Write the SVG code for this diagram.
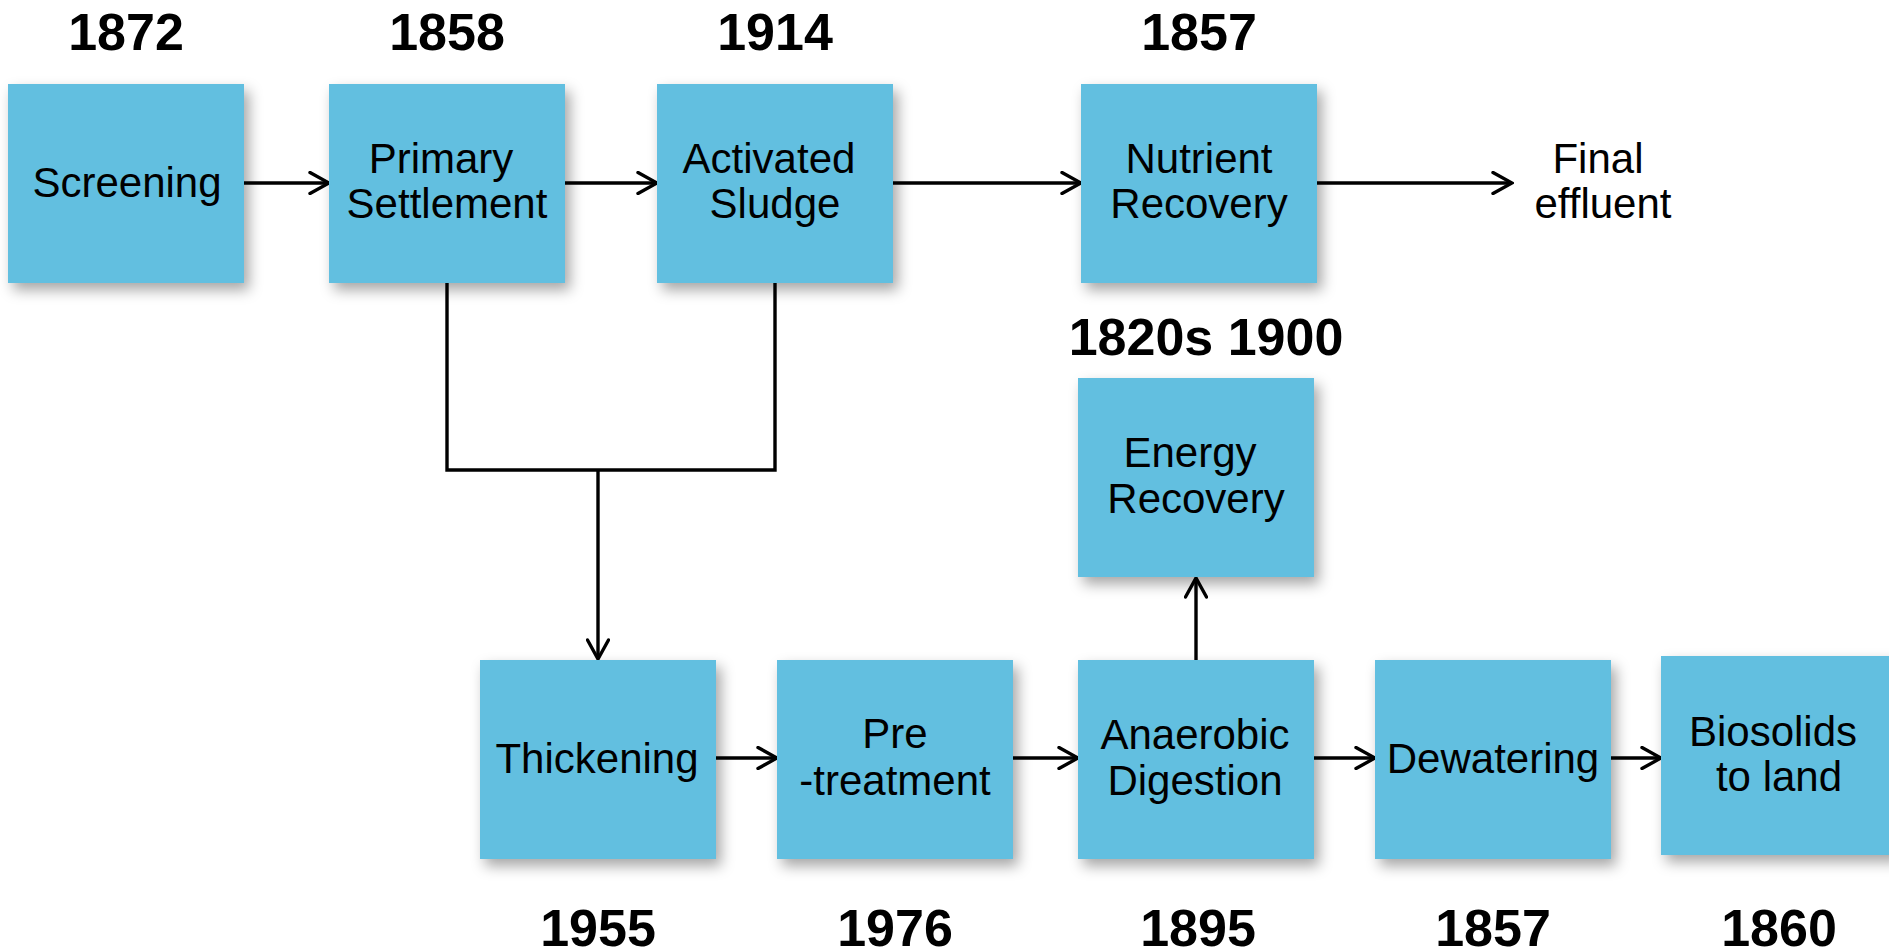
<svg xmlns="http://www.w3.org/2000/svg" width="1889" height="952" viewBox="0 0 1889 952">
<style>
.box{fill:#62BFE0;filter:url(#sh)}
.lbl{font-family:"Liberation Sans",Arial,sans-serif;font-size:42px;fill:#000;text-anchor:middle}
.yr{font-family:"Liberation Sans",Arial,sans-serif;font-size:52px;font-weight:bold;fill:#000;text-anchor:middle}
.con{fill:none;stroke:#000;stroke-width:3.4}
</style>
<defs>
<filter id="sh" x="-20%" y="-20%" width="150%" height="150%">
<feDropShadow dx="5" dy="7" stdDeviation="7" flood-color="#000" flood-opacity="0.35"/>
</filter>
<marker id="ah" viewBox="0 0 24 24" refX="22" refY="12" markerWidth="24" markerHeight="24" markerUnits="userSpaceOnUse" orient="auto">
<path d="M3,1.5 L22,12 L3,22.5" fill="none" stroke="#000" stroke-width="3.4" stroke-linecap="round" stroke-linejoin="miter"/>
</marker>
</defs>
<rect width="1889" height="952" fill="#fff"/>

<g id="connectors">
<line class="con" x1="244" y1="183" x2="329" y2="183" marker-end="url(#ah)"/>
<line class="con" x1="565" y1="183" x2="657" y2="183" marker-end="url(#ah)"/>
<line class="con" x1="893" y1="183" x2="1081" y2="183" marker-end="url(#ah)"/>
<line class="con" x1="1317" y1="183" x2="1512" y2="183" marker-end="url(#ah)"/>
<path class="con" d="M447,283 V470 H775 V283"/>
<line class="con" x1="598" y1="470" x2="598" y2="659" marker-end="url(#ah)"/>
<line class="con" x1="716" y1="758" x2="777" y2="758" marker-end="url(#ah)"/>
<line class="con" x1="1013" y1="758" x2="1078" y2="758" marker-end="url(#ah)"/>
<line class="con" x1="1314" y1="758" x2="1375" y2="758" marker-end="url(#ah)"/>
<line class="con" x1="1605" y1="758" x2="1661" y2="758" marker-end="url(#ah)"/>
<line class="con" x1="1196" y1="660" x2="1196" y2="578" marker-end="url(#ah)"/>
</g>

<g id="screening">
<rect class="box" x="8" y="84" width="236" height="199"/>
<text class="lbl" x="127" y="197">Screening</text>
<text class="yr" x="126" y="50">1872</text>
</g>
<g id="primary-settlement">
<rect class="box" x="329" y="84" width="236" height="199"/>
<text class="lbl" x="441" y="173">Primary</text>
<text class="lbl" x="447" y="218">Settlement</text>
<text class="yr" x="447" y="50">1858</text>
</g>
<g id="activated-sludge">
<rect class="box" x="657" y="84" width="236" height="199"/>
<text class="lbl" x="769" y="173">Activated</text>
<text class="lbl" x="775" y="218">Sludge</text>
<text class="yr" x="775" y="50">1914</text>
</g>
<g id="nutrient-recovery">
<rect class="box" x="1081" y="84" width="236" height="199"/>
<text class="lbl" x="1199" y="173">Nutrient</text>
<text class="lbl" x="1199" y="218">Recovery</text>
<text class="yr" x="1199" y="50">1857</text>
</g>
<g id="final-effluent">
<text class="lbl" x="1598" y="173">Final</text>
<text class="lbl" x="1603" y="218">effluent</text>
</g>
<g id="energy-recovery">
<rect class="box" x="1078" y="378" width="236" height="199"/>
<text class="lbl" x="1190" y="467">Energy</text>
<text class="lbl" x="1196" y="513">Recovery</text>
<text class="yr" x="1206" y="355">1820s 1900</text>
</g>
<g id="thickening">
<rect class="box" x="480" y="660" width="236" height="199"/>
<text class="lbl" x="597" y="773">Thickening</text>
<text class="yr" x="598" y="946">1955</text>
</g>
<g id="pre-treatment">
<rect class="box" x="777" y="660" width="236" height="199"/>
<text class="lbl" x="895" y="748">Pre</text>
<text class="lbl" x="895" y="795">-treatment</text>
<text class="yr" x="895" y="946">1976</text>
</g>
<g id="anaerobic-digestion">
<rect class="box" x="1078" y="660" width="236" height="199"/>
<text class="lbl" x="1195" y="749">Anaerobic</text>
<text class="lbl" x="1195" y="795">Digestion</text>
<text class="yr" x="1198" y="946">1895</text>
</g>
<g id="dewatering">
<rect class="box" x="1375" y="660" width="236" height="199"/>
<text class="lbl" x="1493" y="773">Dewatering</text>
<text class="yr" x="1493" y="946">1857</text>
</g>
<g id="biosolids">
<rect class="box" x="1661" y="656" width="236" height="199"/>
<text class="lbl" x="1773" y="746">Biosolids</text>
<text class="lbl" x="1779" y="791">to land</text>
<text class="yr" x="1779" y="946">1860</text>
</g>
</svg>
